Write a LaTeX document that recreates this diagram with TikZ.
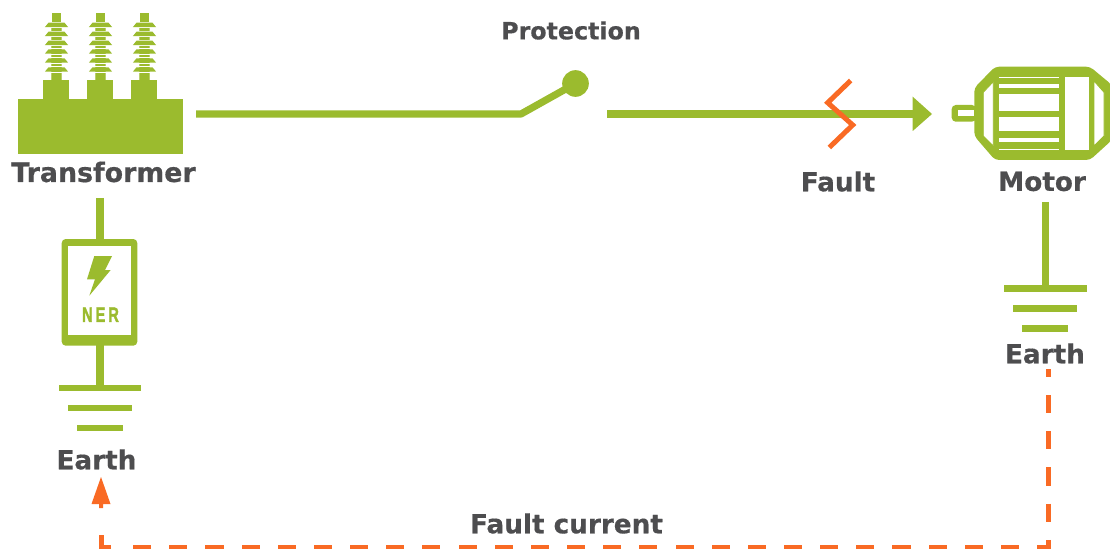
\documentclass[tikz,border=0pt]{standalone}
\usepackage{fontspec}
\setmainfont{DejaVu Sans}[BoldFeatures={FakeBold=0.5}]
\newfontfamily\nerfont{Liberation Sans}[LetterSpace=20,BoldFeatures={FakeBold=2}]
\definecolor{grn}{HTML}{9BBB2E}
\definecolor{org}{HTML}{F96A24}
\definecolor{txt}{HTML}{4D4D4F}
\tikzset{
 wire/.style={draw=grn,line width=5.4pt},
 hole/.style={fill=white,draw=grn,line width=0.6pt},
 lab/.style={text=txt,font=\bfseries\fontsize{19.7}{20}\selectfont,inner sep=0pt,anchor=center},
 dashline/.style={draw=org,line width=3.75pt,dash pattern=on 13.56pt off 13.56pt},
}
\newcommand{\ins}[1]{%
 \begin{scope}[xshift=#1*0.75pt]
  \fill[grn] (-4.4,13) rectangle (4.4,22);
  \fill[grn!70!white] (-5.4,22) rectangle (5.4,80);
  \fill[grn] (-4.8,22) rectangle (4.8,80);
  \foreach \yy in {22.7,31.7,40.7,49.3,58.3,67.3}{
   \fill[white] (-14,\yy-0.8) rectangle (14,\yy);
   \fill[white] (-14,\yy+4.4) rectangle (14,\yy+5.2);
   \fill[grn] (-8,\yy) -- (8,\yy) -- (11.6,\yy+4.4) -- (-11.6,\yy+4.4) -- cycle;
  }
 \end{scope}}
\begin{document}
\begin{tikzpicture}[x=0.75pt,y=-0.75pt]
\useasboundingbox (0,0) rectangle (1110,549);
% transformer
\ins{56.5}\ins{100.5}\ins{144.5}
\fill[grn] (43,80) rectangle (69,99);
\fill[grn] (87,80) rectangle (113,99);
\fill[grn] (131,80) rectangle (157,99);
\fill[grn] (18,99) rectangle (183,154);
\coordinate (tr) at (196,114);
\coordinate (sw1) at (521,114);
\node[circle,fill=grn,minimum size=20pt,inner sep=0pt] (pivot) at (575.5,83.5) {};
\coordinate (sw2) at (607,114);
\coordinate (ah) at (915,114);
\draw[wire,line join=bevel] (tr) -- (sw1) -- (pivot.center);
\draw[wire] (sw2) -- (ah);
\fill[grn] (912.7,96.7) -- (932,114) -- (912.7,131) -- cycle;
% fault zigzag
\draw[org,line width=3.75pt,miter limit=10] (850.7,80.5) -- (827.7,102.7) -- (852.7,125) -- (829.3,147.5);
% motor
\fill[grn,rounded corners=3pt] (995,66.7) -- (1090,66.7) -- (1112,85) -- (1112,140) -- (1090,160) -- (995,160) -- (974.3,136) -- (974.3,88) -- cycle;
\path[hole] (983.3,92.3) -- (993.3,81.7) -- (993.3,146) -- (983.3,136) -- cycle;
\path[hole] (998.3,76) rectangle (1059.3,78.3);
\path[hole] (998.3,83.3) rectangle (1059.3,88.3);
\path[hole] (998.3,93.3) rectangle (1059.3,111);
\path[hole] (998.3,116) rectangle (1059.3,131.7);
\path[hole] (998.3,137.3) rectangle (1059.3,142.7);
\path[hole] (998.3,148) rectangle (1059.3,150.7);
\path[hole] (1064.3,76) rectangle (1089,150.7);
\path[hole] (1094,81) -- (1104,92.3) -- (1104,136) -- (1094,146) -- cycle;
\fill[grn,rounded corners=3pt] (976,105) -- (951.7,105) -- (951.7,121.7) -- (976,121.7) -- cycle;
\fill[white] (957.6,110.4) rectangle (974.3,116.3);
% left branch
\coordinate (t0) at (100,198);
\coordinate (t1) at (100,388);
\draw[wire] (t0) -- (t1);
\fill[grn,rounded corners=3pt] (61.7,239) rectangle (137.3,345.7);
\path[hole] (67.7,245) rectangle (131.7,335);
\fill[grn] (94.3,256) -- (112,256) -- (105,270) -- (110.7,270) -- (89.3,295.7) -- (95,279.3) -- (87,279.3) -- cycle;
\node[text=grn,inner sep=0pt,xscale=0.7] (ner) at (100.5,314.7) {\nerfont\bfseries\fontsize{15.7}{16}\selectfont NER};
\fill[grn] (59,384.7) rectangle (141,391.3);
\fill[grn] (68,404.7) rectangle (132,411.3);
\fill[grn] (77,424.7) rectangle (123,431.3);
% right ground
\coordinate (m0) at (1045.5,202);
\coordinate (m1) at (1045.5,288);
\draw[wire] (m0) -- (m1);
\fill[grn] (1004,284.7) rectangle (1087,291.7);
\fill[grn] (1013,304.7) rectangle (1077,311.7);
\fill[grn] (1022,324.7) rectangle (1068,331.7);
% labels
\node[lab,font=\bfseries\fontsize{17.8}{20}\selectfont] (prot) at (571,30.5) {Protection};
\node[lab,font=\bfseries\fontsize{20.1}{20}\selectfont] (trl) at (103.5,172) {Transformer};
\node[lab] (fl) at (838,181.5) {Fault};
\node[lab] (ml) at (1042,181.5) {Motor};
\node[lab] (e1) at (96.5,459.5) {Earth};
\node[lab] (e2) at (1045,353.5) {Earth};
\node[lab] (fc) at (566.5,523.5) {Fault current};
% fault current path
\coordinate (d0) at (1048,369);
\coordinate (d1) at (1048,547);
\coordinate (d2) at (131,547);
\coordinate (d3) at (111,547);
\coordinate (d4) at (101,547);
\coordinate (d5) at (101,535);
\draw[dashline,dash phase=7.5pt] (d0) -- (d1) -- (d2);
\draw[org,line width=3.75pt] (d3) -- (d4) -- (d5);
\fill[org] (101,477) -- (110.5,504) -- (103,504) -- (103,508) -- (99,508) -- (99,504) -- (91.5,504) -- cycle;
\end{tikzpicture}
\end{document}
